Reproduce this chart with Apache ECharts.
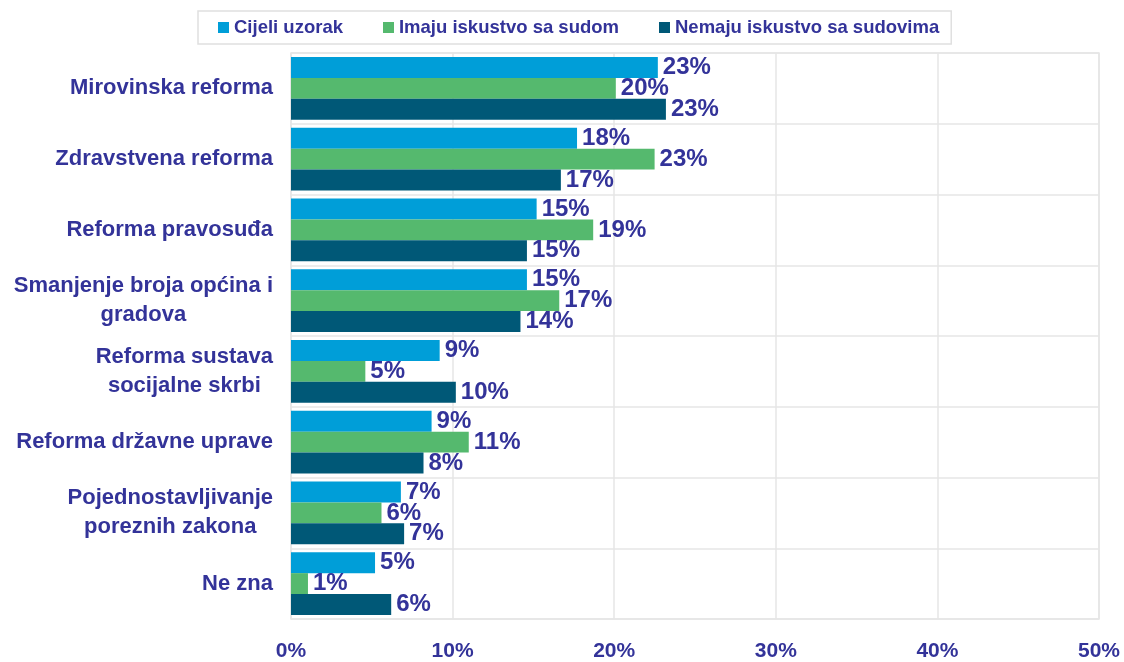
<!DOCTYPE html>
<html>
<head>
<meta charset="utf-8">
<script src="https://cdn.jsdelivr.net/npm/echarts@6/dist/echarts.min.js"></script>
<style>
  html, body { margin: 0; padding: 0; background: #fff; }
  #main { width: 1124px; height: 662px; }
</style>
</head>
<body>
<div id="main"></div>
<script>
// kategorije (odozgo prema dolje)
var categories = [
  'Mirovinska reforma',
  'Zdravstvena reforma',
  'Reforma pravosuđa',
  'Smanjenje broja općina i\ngradova',
  'Reforma sustava\nsocijalne skrbi',
  'Reforma državne uprave',
  'Pojednostavljivanje\nporeznih zakona',
  'Ne zna'
];

var seriesNames = ['Cijeli uzorak', 'Imaju iskustvo sa sudom', 'Nemaju iskustvo sa sudovima'];

// postoci, procijenjeni s grafa
var cijeliUzorak = [22.7, 17.7, 15.2, 14.6, 9.2, 8.7, 6.8, 5.2];
var imajuIskustvo = [20.1, 22.5, 18.7, 16.6, 4.6, 11.0, 5.6, 1.05];
var nemajuIskustvo = [23.2, 16.7, 14.6, 14.2, 10.2, 8.2, 7.0, 6.2];

var xTicks = [0, 10, 20, 30, 40, 50];

var colors = ['#009ED8', '#55B96E', '#005877'];
var textColor = '#333399';
var font = '"Liberation Sans", Arial, sans-serif';

var chart = echarts.init(document.getElementById('main'));

function makeSeries(name, data, color) {
  return {
    name: name,
    type: 'bar',
    data: data,
    barGap: '0%',
    barCategoryGap: '11%',
    itemStyle: { color: color },
    label: {
      show: true,
      position: 'right',
      distance: 5,
      color: textColor,
      fontFamily: font,
      fontWeight: 'bold',
      fontSize: 24,
      formatter: function (p) { return Math.round(p.value) + '%'; }
    }
  };
}

var option = {
  backgroundColor: '#ffffff',
  animation: false,
  legend: {
    data: seriesNames,
    left: 198,
    top: 11,
    padding: [7, 12, 7, 20],
    itemGap: 40,
    itemWidth: 11,
    itemHeight: 11,
    icon: 'rect',
    borderColor: '#e0e0e0',
    borderWidth: 1.5,
    textStyle: {
      color: textColor,
      fontFamily: font,
      fontWeight: 'bold',
      fontSize: 18.5
    }
  },
  grid: {
    left: 291,
    right: 25,
    top: 53,
    bottom: 42,
    show: true,
    borderColor: '#e6e6e6',
    borderWidth: 1.5
  },
  xAxis: {
    type: 'value',
    min: xTicks[0],
    max: xTicks[xTicks.length - 1],
    interval: 10,
    axisLine: { show: false },
    axisTick: { show: false },
    splitLine: { lineStyle: { color: '#e6e6e6', width: 1.5 } },
    axisLabel: {
      margin: 22,
      color: textColor,
      fontFamily: font,
      fontWeight: 'bold',
      fontSize: 21,
      formatter: '{value}%'
    }
  },
  yAxis: {
    type: 'category',
    inverse: true,
    data: categories,
    axisLine: { show: false },
    axisTick: { show: false },
    splitLine: { show: true, lineStyle: { color: '#e6e6e6', width: 1.5 } },
    axisLabel: {
      margin: 18,
      color: textColor,
      fontFamily: font,
      fontWeight: 'bold',
      fontSize: 22,
      lineHeight: 29,
      formatter: function (v) {
        return v.split('\n').map(function (s) { return '{c|' + s + '}'; }).join('\n');
      },
      rich: {
        c: {
          align: 'center',
          color: textColor,
          fontFamily: font,
          fontWeight: 'bold',
          fontSize: 22,
          lineHeight: 29
        }
      }
    }
  },
  series: [
    makeSeries(seriesNames[0], cijeliUzorak, colors[0]),
    makeSeries(seriesNames[1], imajuIskustvo, colors[1]),
    makeSeries(seriesNames[2], nemajuIskustvo, colors[2])
  ]
};

chart.setOption(option);
</script>
</body>
</html>
